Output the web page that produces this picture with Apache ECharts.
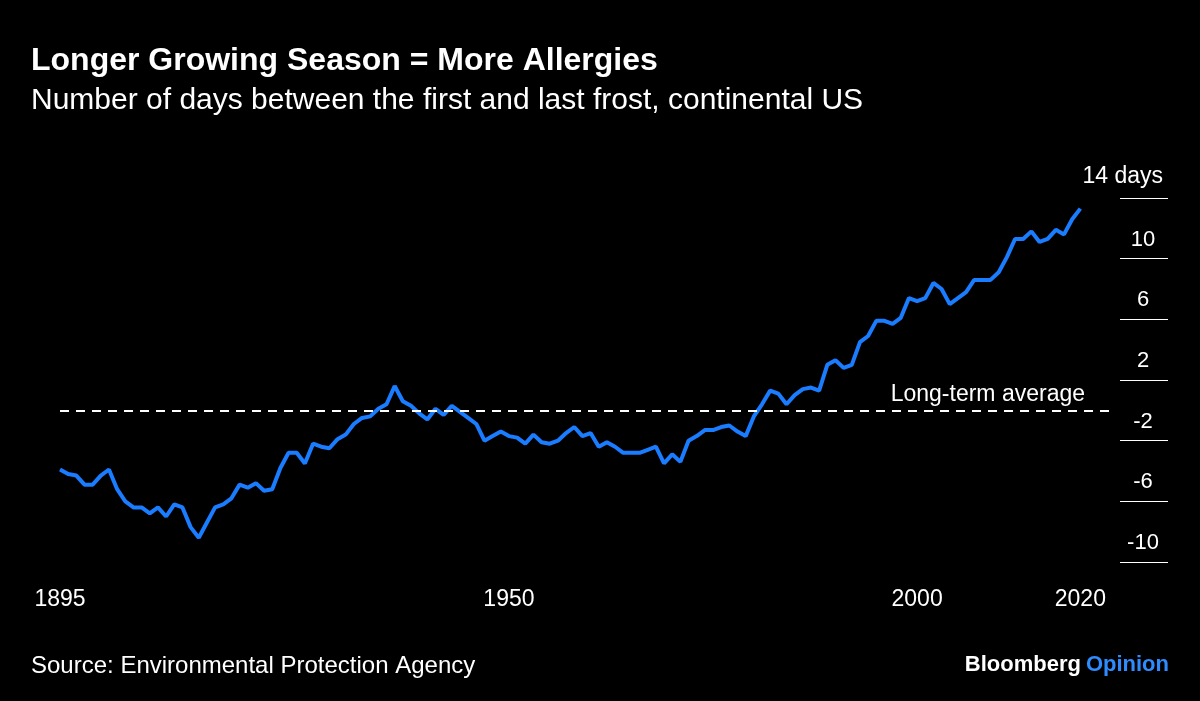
<!DOCTYPE html>
<html lang="en">
  <head>
    <meta charset="utf-8" />
    <title>Longer Growing Season</title>
    <script src="https://cdn.jsdelivr.net/npm/echarts@6/dist/echarts.min.js"></script>
    <style>body{margin:0;background:#000}</style>
  </head>
  <body>
    <div id="main" style="width:1200px;height:701px;"></div>
    <script type="text/javascript">
      const startYear = 1895
      const values = [
        -3.9, -4.2, -4.3, -4.9, -4.9, -4.3, -3.9, -5.2, -6.0, -6.4,
        -6.4, -6.8, -6.4, -7.0, -6.2, -6.4, -7.7, -8.4, -7.4, -6.4,
        -6.2, -5.8, -4.9, -5.1, -4.8, -5.3, -5.2, -3.8, -2.8, -2.8,
        -3.5, -2.2, -2.4, -2.5, -1.9, -1.6, -0.9, -0.5, -0.4, 0.1,
        0.4, 1.6, 0.6, 0.3, -0.2, -0.6, 0.1, -0.3, 0.3, -0.1,
        -0.5, -0.9, -2.0, -1.7, -1.4, -1.7, -1.8, -2.2, -1.6, -2.1,
        -2.2, -2.0, -1.5, -1.1, -1.7, -1.5, -2.4, -2.1, -2.4, -2.8,
        -2.8, -2.8, -2.6, -2.4, -3.5, -2.9, -3.4, -2.0, -1.7, -1.3,
        -1.3, -1.1, -1.0, -1.4, -1.7, -0.4, 0.4, 1.3, 1.1, 0.4,
        1.0, 1.4, 1.5, 1.3, 3.0, 3.3, 2.8, 3.0, 4.5, 4.9,
        5.9, 5.9, 5.7, 6.1, 7.4, 7.2, 7.4, 8.4, 8.0, 7.0,
        7.4, 7.8, 8.6, 8.6, 8.6, 9.1, 10.1, 11.3, 11.3, 11.8,
        11.1, 11.3, 11.9, 11.6, 12.6, 13.3
      ]
      const yearLabels = [1895, 1950, 2000, 2020]

      const points = values.map((v, i) => [startYear + i, v])
      const font = '"Liberation Sans", Arial, sans-serif'

      const myChart = echarts.init(document.getElementById('main'))
      myChart.setOption({
        backgroundColor: '#000',
        animation: false,
        textStyle: { fontFamily: font },
        title: [
          { text: 'Longer Growing Season = More Allergies', left: 26, top: 40,
            textStyle: { color: '#fff', fontSize: 32, fontWeight: 'bold', fontFamily: font } },
          { text: 'Number of days between the first and last frost, continental US', left: 26, top: 81,
            textStyle: { color: '#fff', fontSize: 30, fontWeight: 'normal', fontFamily: font } },
          { text: 'Source: Environmental Protection Agency', left: 26, top: 649,
            textStyle: { color: '#fff', fontSize: 24, fontWeight: 'normal', fontFamily: font } },
          { text: '{a|Bloomberg} {b|Opinion}', right: 26, top: 649,
            textStyle: { rich: {
              a: { color: '#fff', fontSize: 22, fontWeight: 'bold', fontFamily: font },
              b: { color: '#2f8cff', fontSize: 22, fontFamily: font }
            } } },
          { text: '14 days', right: 32, top: 160,
            textStyle: { color: '#fff', fontSize: 23, fontWeight: 'normal', fontFamily: font } }
        ],
        grid: { left: 60, right: 87, top: 198, bottom: 139, outerBoundsMode: 'none' },
        xAxis: {
          type: 'value', min: 1895, max: 2024,
          axisLine: { show: false }, axisTick: { show: false }, splitLine: { show: false },
          axisLabel: { customValues: yearLabels, color: '#fff', fontSize: 23, margin: 26,
            fontFamily: font, formatter: v => String(v) }
        },
        yAxis: {
          type: 'value', min: -10, max: 14, interval: 4, position: 'right', offset: 7,
          axisLine: { show: false }, splitLine: { show: false },
          axisTick: { show: true, length: 48, lineStyle: { color: '#fff', width: 1 } },
          axisLabel: {
            color: '#fff', fontSize: 22, margin: 23, align: 'center', verticalAlign: 'bottom',
            padding: [0, 0, 8, 0], fontFamily: font,
            formatter: v => v === 14 ? '' : String(v)
          }
        },
        series: [{
          type: 'line', data: points, showSymbol: false, smooth: false,
          lineStyle: { color: '#1a7cff', width: 4 },
          markLine: {
            silent: true, symbol: 'none',
            lineStyle: { color: '#fff', type: [9, 7], width: 2 },
            label: { show: true, position: 'insideEndTop', formatter: 'Long-term average',
              color: '#fff', fontSize: 23, distance: [28, 4], fontFamily: font },
            data: [{ yAxis: 0 }]
          }
        }]
      })
    </script>
  </body>
</html>
